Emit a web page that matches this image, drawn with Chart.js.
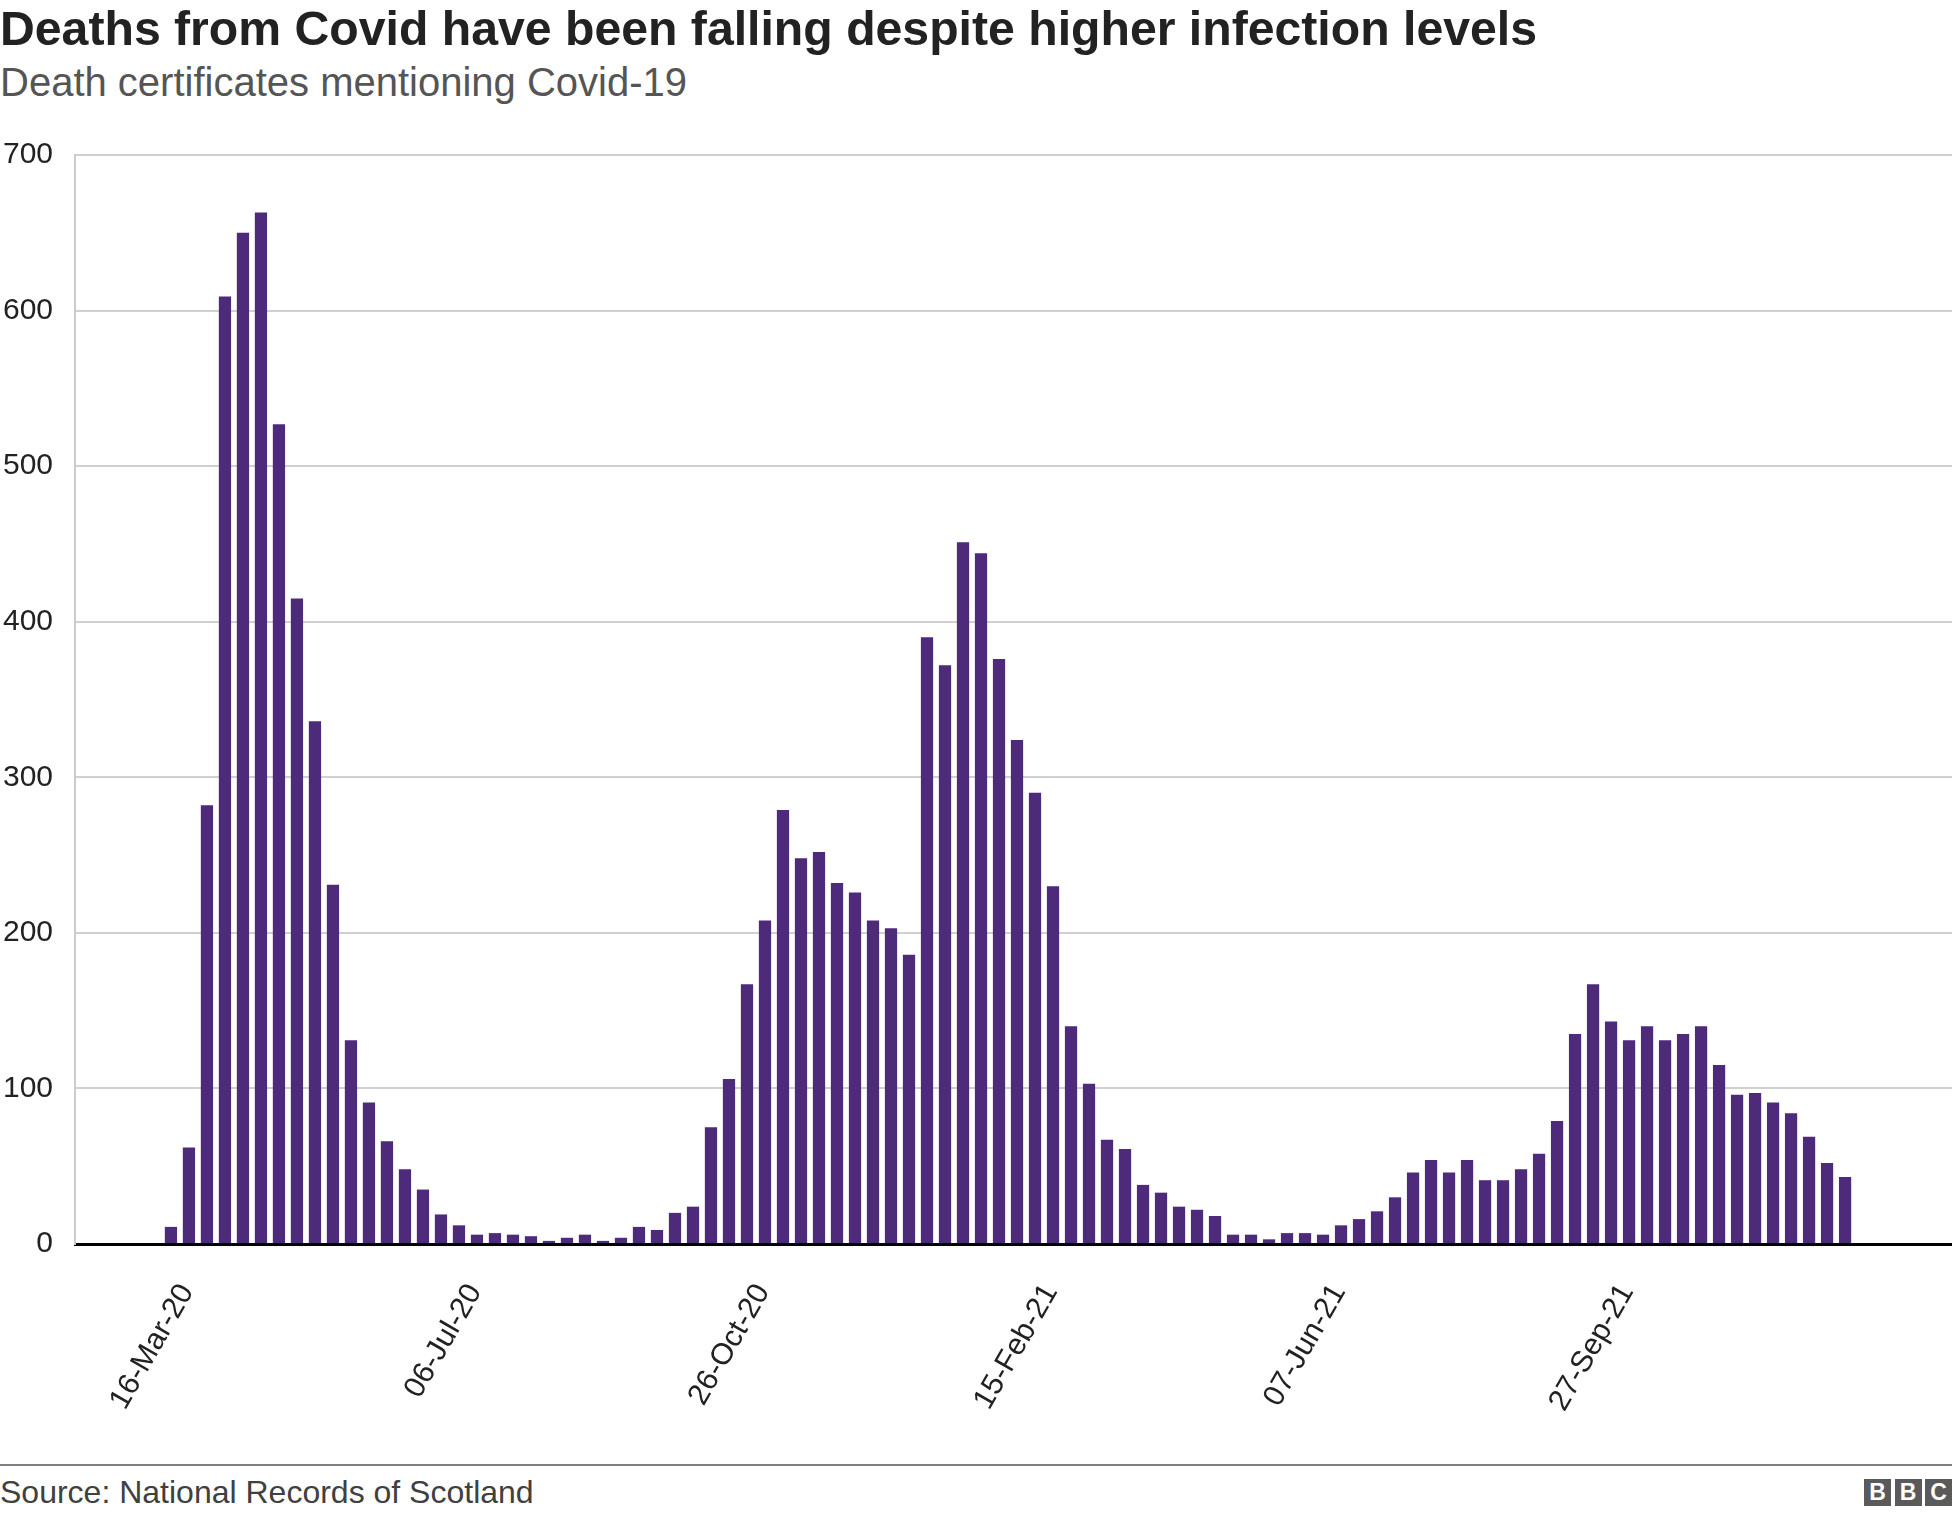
<!DOCTYPE html>
<html>
<head>
<meta charset="utf-8">
<script src="https://cdn.jsdelivr.net/npm/chart.js@4"></script>
<style>
    body { margin: 0; background: #fff; font-family: "Liberation Sans", Arial, Helvetica, sans-serif; }
    .wrap { position: relative; width: 1952px; height: 1518px; overflow: hidden; }
    .title { position: absolute; left: 0; top: 4px; font-size: 48.2px; line-height: 48px; font-weight: bold; color: #222; white-space: nowrap; }
    .subtitle { position: absolute; left: 0; top: 62px; font-size: 40px; line-height: 40px; color: #555; white-space: nowrap; }
    .chart-box { position: absolute; left: 0; top: 115px; width: 1952px; height: 1335px; }
    .rule { position: absolute; left: 0; top: 1464px; width: 1952px; height: 2px; background: #808080; }
    .source { position: absolute; left: 0; top: 1476px; font-size: 32px; line-height: 32px; color: #404040; white-space: nowrap; }
    .bbc { position: absolute; right: 0; top: 1479px; display: flex; gap: 3.5px; }
    .bbc span { width: 27px; height: 27px; background: #5a5a5a; color: #fff; font-weight: bold; font-size: 23px; line-height: 27px; text-align: center; }
</style>
</head>
<body>
<div class="wrap">
    <div class="title">Deaths from Covid have been falling despite higher infection levels</div>
    <div class="subtitle">Death certificates mentioning Covid-19</div>
    <div class="chart-box"><canvas id="deathsChart"></canvas></div>
    <div class="rule"></div>
    <div class="source">Source: National Records of Scotland</div>
    <div class="bbc"><span>B</span><span>B</span><span>C</span></div>
</div>
<script>
// weekly deaths, first week starting 16-Mar-20
const weeklyDeaths = [
    11, 62, 282, 609, 650, 663, 527, 415, 336, 231,
    131, 91, 66, 48, 35, 19, 12, 6, 7, 6,
    5, 2, 4, 6, 2, 4, 11, 9, 20, 24,
    75, 106, 167, 208, 279, 248, 252, 232, 226, 208,
    203, 186, 390, 372, 451, 444, 376, 324, 290, 230,
    140, 103, 67, 61, 38, 33, 24, 22, 18, 6,
    6, 3, 7, 7, 6, 12, 16, 21, 30, 46,
    54, 46, 54, 41, 41, 48, 58, 79, 135, 167,
    143, 131, 140, 131, 135, 140, 115, 96, 97, 91,
    84, 69, 52, 43
];
// one label every 16 weeks
const tickLabels = ['16-Mar-20', '06-Jul-20', '26-Oct-20', '15-Feb-21', '07-Jun-21', '27-Sep-21'];
const tickEvery = 16;
const yTicks = [0, 100, 200, 300, 400, 500, 600, 700];

document.addEventListener("DOMContentLoaded", (event) => {
    const ctx = document.getElementById('deathsChart');

    new Chart(ctx, {
        type: 'bar',
        data: {
            datasets: [{
                label: 'Deaths',
                data: weeklyDeaths.map((v, i) => ({ x: i, y: v })),
                backgroundColor: '#4d2a7a',
                barPercentage: 0.68,
                categoryPercentage: 1,
            }]
        },
        options: {
            responsive: true,
            maintainAspectRatio: false,
            animation: false,
            layout: { padding: 0 },
            plugins: {
                legend: { display: false },
                tooltip: { enabled: false },
            },
            scales: {
                x: {
                    type: 'linear',
                    offset: false,
                    min: -5.33,
                    max: 98.94,
                    grid: { display: false, drawTicks: false },
                    border: { display: true, color: '#000', width: 3 },
                    afterFit: (scale) => { scale.height = 206 },
                    afterBuildTicks: (scale) => { scale.ticks = tickLabels.map((t, i) => ({ value: i * tickEvery })) },
                    ticks: {
                        autoSkip: false,
                        minRotation: 60,
                        maxRotation: 60,
                        padding: 34,
                        labelOffset: 16,
                        color: '#222',
                        font: { family: '"Liberation Sans", Arial, sans-serif', size: 30 },
                        callback: (v) => tickLabels[v / tickEvery] || '',
                    },
                },
                y: {
                    min: yTicks[0],
                    max: yTicks[yTicks.length - 1],
                    grid: { color: '#d0d0d0', lineWidth: 2, drawTicks: false },
                    border: { display: true, color: '#cccccc', width: 2 },
                    afterFit: (scale) => { scale.width = 75 },
                    afterBuildTicks: (scale) => { scale.ticks = yTicks.map(v => ({ value: v })) },
                    ticks: {
                        padding: 22,
                        color: '#222',
                        font: { family: '"Liberation Sans", Arial, sans-serif', size: 30 },
                    },
                },
            }
        }
    });
})
</script>
</body>
</html>
